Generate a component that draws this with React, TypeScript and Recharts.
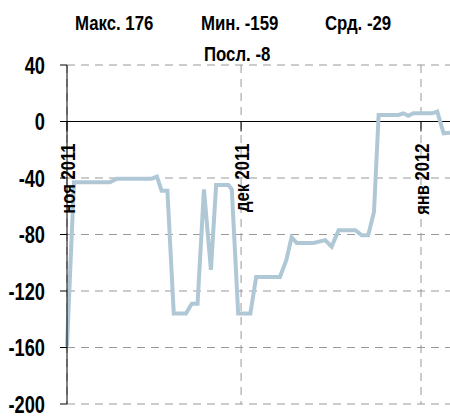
import React from 'react';
import { LineChart, Line, XAxis, YAxis, CartesianGrid, ReferenceLine } from 'recharts';

// day offset from 1 Nov 2011 and the reading at that point
const dayOffsets = [
  0, 1.2, 7.4, 8.6, 14.6, 15.5, 16.3, 17.3, 18.4, 20.5, 21.5, 22.5, 23.6, 24.8, 25.7, 27.8, 28.4,
  29.5, 31.6, 32.6, 36.7, 37.8, 38.7, 39.6, 42.5, 44.5, 45.6, 46.8, 49.7, 50.8, 51.9, 52.9, 53.7,
  57.1, 58, 58.8, 59.7, 62.9, 63.8, 64.9, 66,
];
const values = [
  -159, -43, -43, -40.5, -40.5, -39, -49, -49, -136, -136, -129, -129, -48, -105, -45, -45, -48,
  -136, -136, -110, -110, -98, -82, -86, -86, -84, -88.6, -77, -77, -80.6, -80.6, -64, 4.6,
  4.6, 5.8, 4.1, 5.8, 5.8, 7, -8.4, -8,
];
const monthTicks = [0, 30, 61];
const monthLabels = ['ноя 2011', 'дек 2011', 'янв 2012'];
const yTicks = [-200, -160, -120, -80, -40, 0, 40];
const stats = ['Макс. 176', 'Мин. -159', 'Срд. -29'];
const lastLabel = 'Посл. -8';

const data = dayOffsets.map((d, i) => ({ day: d, value: values[i] }));

const W = 450;
const H = 417;
const M = { top: 65, right: 0, bottom: 12, left: 0 };
const Y_MIN = -200;
const Y_MAX = 40;
const plotH = H - M.top - M.bottom - 1;
const zeroY = M.top + ((Y_MAX - 0) / (Y_MAX - Y_MIN)) * plotH;

// no narrow font installed: squeeze a bold sans horizontally instead
const FONT = "'Liberation Sans', Arial, sans-serif";

const MonthTick = (props: any) => {
  const { x, payload } = props;
  const label = monthLabels[monthTicks.indexOf(payload.value)];
  return (
    <g>
      <line x1={x} x2={x} y1={zeroY} y2={zeroY + 10} stroke="#000" strokeWidth={1} />
      <text
        x={0}
        y={0}
        transform={`translate(${x},${zeroY + 22}) rotate(-90) scale(0.79,1)`}
        textAnchor="end"
        dy="0.36em"
        fontSize={21}
        fontWeight="bold"
        fontFamily={FONT}
        fill="#000"
      >
        {label}
      </text>
    </g>
  );
};

const ValueTick = (props: any) => {
  const { x, y, payload } = props;
  return (
    <text
      x={0}
      y={0}
      transform={`translate(${x},${y}) scale(0.76,1)`}
      textAnchor="end"
      dy="0.36em"
      fontSize={24}
      fontWeight="bold"
      fontFamily={FONT}
      fill="#000"
    >
      {payload.value}
    </text>
  );
};

const Title = ({ x, y, text }: { x: number; y: number; text: string }) => (
  <text
    x={0}
    y={0}
    transform={`translate(${x},${y}) scale(0.8,1)`}
    fontSize={21}
    fontWeight="bold"
    fontFamily={FONT}
    fill="#000"
  >
    {text}
  </text>
);

const App = () => {
  return (
    <div style={{ position: 'absolute', left: 0, top: 0, width: W, height: H, background: '#fff' }}>
      <LineChart width={W} height={H} data={data} margin={M}>
        <CartesianGrid stroke="#999" strokeDasharray="8 6" verticalValues={monthTicks} />
        <XAxis
          dataKey="day"
          type="number"
          domain={[0, 66]}
          ticks={monthTicks}
          height={1}
          axisLine={false}
          tickLine={false}
          tick={MonthTick}
          interval={0}
        />
        <YAxis
          type="number"
          domain={[Y_MIN, Y_MAX]}
          ticks={yTicks}
          width={67}
          axisLine={{ stroke: '#000', strokeWidth: 1 }}
          tickLine={{ stroke: '#000', strokeWidth: 1 }}
          tickSize={7}
          tickMargin={15}
          interval={0}
          tick={ValueTick}
        />
        <ReferenceLine y={0} stroke="#000" strokeWidth={1} />
        <Line
          type="linear"
          dataKey="value"
          stroke="#b0c8d6"
          strokeWidth={4}
          dot={false}
          isAnimationActive={false}
        />
      </LineChart>
      <svg width={W} height={M.top} style={{ position: 'absolute', left: 0, top: 0 }}>
        <Title x={75} y={30} text={stats[0]} />
        <Title x={201} y={30} text={stats[1]} />
        <Title x={325} y={30} text={stats[2]} />
        <Title x={204} y={61} text={lastLabel} />
      </svg>
    </div>
  );
};

export default App;
